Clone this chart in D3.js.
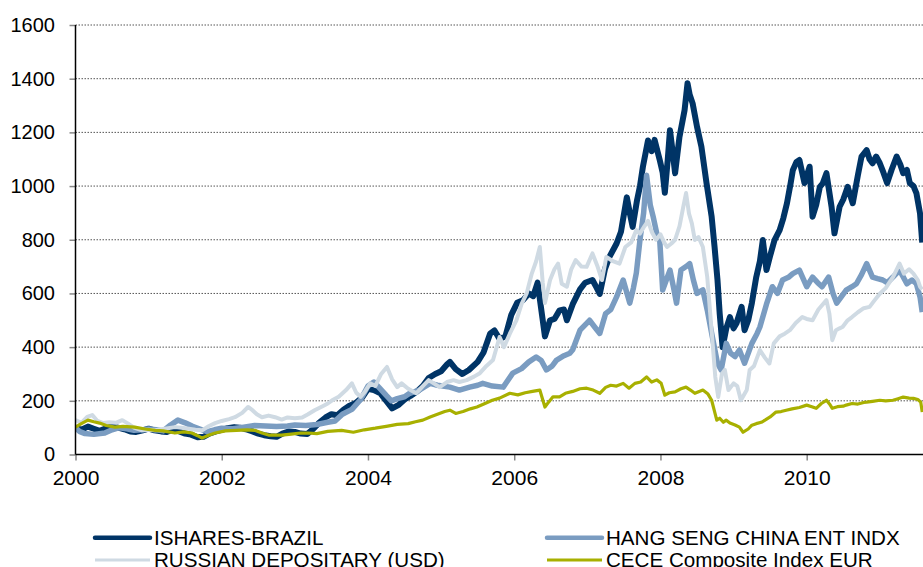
<!DOCTYPE html>
<html>
<head>
<meta charset="utf-8" />
<title></title>
<style>
html, body {
    margin: 0;
    padding: 0;
    background: #fff;
}
svg text {
    font-family: Arial, "Liberation Sans", sans-serif;
}
.grid line {
    stroke: #555;
    stroke-dasharray: 1.5,1.5;
}
</style>
</head>
<body>
<div id="chart"></div>
<script src="https://cdnjs.cloudflare.com/ajax/libs/d3/7.8.5/d3.min.js"></script>
<script>
var yearTicks = [2000, 2002, 2004, 2006, 2008, 2010]
var valueTicks = [0, 200, 400, 600, 800, 1000, 1200, 1400, 1600]
var seriesNames = ["ISHARES-BRAZIL", "HANG SENG CHINA ENT INDX", "RUSSIAN DEPOSITARY (USD)", "CECE Composite Index EUR"]

// [decimal year, index value]
var brazil = [[2000.00,100],[2000.08,92],[2000.17,104],[2000.25,96],[2000.33,88],[2000.42,98],[2000.5,105],[2000.58,100],[2000.67,94],[2000.75,86],[2000.83,84],[2000.92,90],
    [2001.0,96],[2001.08,90],[2001.17,86],[2001.25,84],[2001.33,92],[2001.42,86],[2001.5,78],[2001.58,74],[2001.67,64],[2001.75,66],[2001.83,78],[2001.92,86],
    [2002.0,92],[2002.08,98],[2002.17,102],[2002.25,100],[2002.33,94],[2002.42,86],[2002.5,78],[2002.58,72],[2002.67,68],[2002.75,66],[2002.83,78],[2002.92,86],
    [2003.0,84],[2003.08,78],[2003.17,76],[2003.25,95],[2003.33,118],[2003.42,138],[2003.5,150],[2003.58,146],[2003.67,168],[2003.75,182],[2003.83,192],[2003.92,212],
    [2004.0,245],[2004.08,240],[2004.17,228],[2004.25,200],[2004.33,172],[2004.42,185],[2004.5,205],[2004.58,218],[2004.67,235],[2004.75,255],[2004.83,285],[2004.92,300],
    [2005.0,310],[2005.08,335],[2005.12,345],[2005.2,318],[2005.29,300],[2005.38,315],[2005.5,345],[2005.58,380],[2005.67,450],[2005.73,462],[2005.8,430],[2005.88,440],[2005.96,520],
    [2006.04,565],[2006.12,575],[2006.2,600],[2006.26,590],[2006.32,640],[2006.38,520],[2006.42,440],[2006.49,500],[2006.55,505],[2006.62,537],[2006.68,540],[2006.72,500],[2006.8,560],[2006.9,615],[2006.97,640],
    [2007.07,650],[2007.13,620],[2007.17,598],[2007.24,690],[2007.3,735],[2007.4,786],[2007.46,830],[2007.54,958],[2007.58,900],[2007.62,848],[2007.68,948],[2007.72,1000],[2007.76,1072],[2007.83,1170],[2007.88,1130],[2007.92,1172],[2007.99,1097],
    [2008.03,1050],[2008.06,975],[2008.1,1100],[2008.13,1208],[2008.17,1120],[2008.2,1048],[2008.26,1183],[2008.33,1283],[2008.37,1383],[2008.4,1340],[2008.44,1308],[2008.5,1221],[2008.56,1147],[2008.63,1011],[2008.7,886],[2008.74,773],[2008.78,650],[2008.81,525],[2008.85,400],[2008.9,470],[2008.95,512],
    [2009.0,470],[2009.04,489],[2009.11,550],[2009.15,463],[2009.2,500],[2009.25,564],[2009.31,661],[2009.36,720],[2009.4,799],[2009.45,687],[2009.5,740],[2009.56,799],[2009.63,836],[2009.68,880],[2009.73,936],[2009.78,1010],[2009.81,1059],[2009.86,1090],[2009.9,1097],[2009.97,1011],
    [2010.04,1072],[2010.08,886],[2010.13,930],[2010.18,997],[2010.22,1010],[2010.27,1048],[2010.34,923],[2010.38,824],[2010.45,923],[2010.5,950],[2010.56,997],[2010.63,936],[2010.7,1040],[2010.75,1110],[2010.82,1134],[2010.86,1100],[2010.9,1085],[2010.95,1110],
    [2011.0,1085],[2011.05,1050],[2011.1,1011],[2011.16,1060],[2011.23,1110],[2011.28,1080],[2011.32,1048],[2011.37,1060],[2011.41,1011],[2011.46,1000],[2011.5,974],[2011.55,898],[2011.58,790]]

var hangSeng = [[2000.0,100],[2000.06,85],[2000.13,78],[2000.25,75],[2000.4,80],[2000.5,92],[2000.6,100],[2000.7,96],[2000.8,90],[2000.92,92],
    [2001.0,95],[2001.1,92],[2001.2,88],[2001.3,110],[2001.4,128],[2001.5,118],[2001.6,105],[2001.7,95],[2001.8,85],[2001.9,92],
    [2002.0,98],[2002.15,96],[2002.3,102],[2002.45,108],[2002.6,106],[2002.75,104],[2002.9,106],
    [2003.0,110],[2003.15,108],[2003.3,112],[2003.45,120],[2003.55,125],[2003.65,150],[2003.78,168],[2003.9,205],
    [2004.0,255],[2004.08,270],[2004.15,250],[2004.25,220],[2004.32,200],[2004.4,208],[2004.5,215],[2004.57,228],[2004.7,240],[2004.85,265],[2004.95,258],
    [2005.12,251],[2005.25,240],[2005.39,251],[2005.5,258],[2005.57,265],[2005.7,255],[2005.85,251],[2005.98,303],
    [2006.1,320],[2006.2,345],[2006.3,363],[2006.37,350],[2006.44,315],[2006.52,330],[2006.58,352],[2006.68,368],[2006.76,377],[2006.8,390],[2006.9,463],
    [2007.03,500],[2007.1,475],[2007.17,451],[2007.25,525],[2007.32,540],[2007.4,587],[2007.49,650],[2007.58,564],[2007.63,620],[2007.67,676],[2007.72,800],[2007.77,900],[2007.81,1040],[2007.86,930],[2007.9,886],[2007.95,823],[2007.99,799],
    [2008.03,613],[2008.08,650],[2008.13,687],[2008.18,620],[2008.22,564],[2008.28,687],[2008.35,700],[2008.4,711],[2008.45,650],[2008.5,600],[2008.58,613],[2008.64,538],[2008.71,438],[2008.78,340],[2008.83,315],[2008.9,414],[2008.96,377],
    [2009.02,365],[2009.08,389],[2009.15,340],[2009.25,414],[2009.32,450],[2009.36,475],[2009.45,560],[2009.53,625],[2009.6,600],[2009.67,650],[2009.75,660],[2009.81,674],[2009.9,687],
    [2010.0,625],[2010.08,661],[2010.15,640],[2010.21,625],[2010.3,661],[2010.36,600],[2010.41,564],[2010.48,590],[2010.54,612],[2010.62,625],[2010.68,636],[2010.75,670],[2010.82,711],[2010.9,661],[2010.97,655],
    [2011.04,650],[2011.1,640],[2011.18,661],[2011.27,687],[2011.37,636],[2011.44,650],[2011.5,636],[2011.55,587],[2011.58,530]]

var russian = [[2000.0,128],[2000.08,118],[2000.16,140],[2000.23,147],[2000.3,125],[2000.38,117],[2000.46,120],[2000.55,118],[2000.64,128],[2000.72,115],[2000.8,100],[2000.91,90],
    [2001.0,92],[2001.09,90],[2001.2,95],[2001.36,102],[2001.45,100],[2001.55,96],[2001.64,92],[2001.73,90],[2001.82,105],[2001.91,117],
    [2002.0,125],[2002.1,132],[2002.18,139],[2002.28,155],[2002.36,177],[2002.42,165],[2002.48,150],[2002.55,139],[2002.64,145],[2002.73,139],[2002.82,130],[2002.9,138],
    [2003.0,135],[2003.1,138],[2003.18,150],[2003.27,165],[2003.38,180],[2003.45,190],[2003.51,202],[2003.6,215],[2003.7,240],[2003.78,265],[2003.84,230],[2003.9,215],[2003.96,235],
    [2004.03,265],[2004.1,255],[2004.18,300],[2004.26,326],[2004.33,280],[2004.4,251],[2004.46,265],[2004.55,245],[2004.66,228],[2004.75,255],[2004.83,277],[2004.9,265],[2004.98,251],
    [2005.08,270],[2005.17,277],[2005.25,270],[2005.35,277],[2005.45,290],[2005.53,303],[2005.62,330],[2005.71,352],[2005.8,438],[2005.86,400],[2005.94,450],
    [2006.03,500],[2006.1,560],[2006.17,600],[2006.24,674],[2006.3,720],[2006.35,773],[2006.39,640],[2006.42,564],[2006.49,650],[2006.55,690],[2006.6,711],[2006.65,636],[2006.72,625],[2006.78,690],[2006.84,724],[2006.92,700],[2006.99,699],
    [2007.07,749],[2007.14,700],[2007.2,650],[2007.26,736],[2007.35,720],[2007.44,711],[2007.52,773],[2007.6,790],[2007.67,836],[2007.72,823],[2007.78,850],[2007.83,870],[2007.88,830],[2007.94,800],
    [2008.0,820],[2008.05,790],[2008.09,773],[2008.15,786],[2008.2,800],[2008.26,850],[2008.31,920],[2008.35,974],[2008.39,898],[2008.43,860],[2008.47,799],[2008.52,810],[2008.58,773],[2008.64,661],[2008.71,426],[2008.75,289],[2008.79,214],[2008.84,300],[2008.88,315],[2008.93,240],
    [2009.0,265],[2009.05,255],[2009.1,202],[2009.18,240],[2009.22,315],[2009.28,330],[2009.36,389],[2009.43,360],[2009.49,339],[2009.55,414],[2009.63,440],[2009.7,450],[2009.77,463],[2009.85,490],[2009.94,512],
    [2010.0,505],[2010.08,500],[2010.16,540],[2010.27,575],[2010.31,525],[2010.35,426],[2010.4,463],[2010.45,470],[2010.49,475],[2010.56,500],[2010.62,512],[2010.7,530],[2010.78,545],[2010.86,550],[2010.93,575],
    [2011.0,599],[2011.08,620],[2011.18,661],[2011.27,711],[2011.33,674],[2011.4,690],[2011.46,674],[2011.52,650],[2011.55,625],[2011.58,615]]

var cece = [[2000.0,102],[2000.08,115],[2000.17,128],[2000.25,122],[2000.33,117],[2000.42,108],[2000.54,102],[2000.65,105],[2000.81,102],[2000.95,95],
    [2001.09,90],[2001.2,88],[2001.36,80],[2001.48,84],[2001.59,80],[2001.67,70],[2001.73,61],[2001.82,72],[2001.91,80],
    [2002.05,88],[2002.2,90],[2002.35,92],[2002.45,90],[2002.55,80],[2002.65,72],[2002.82,72],[2002.95,76],
    [2003.08,80],[2003.18,80],[2003.3,78],[2003.45,86],[2003.64,90],[2003.8,83],[2003.95,92],
    [2004.1,98],[2004.25,105],[2004.4,112],[2004.55,115],[2004.65,122],[2004.75,128],[2004.85,140],[2004.95,150],
    [2005.05,160],[2005.12,165],[2005.2,153],[2005.3,160],[2005.4,170],[2005.49,177],[2005.6,190],[2005.7,202],[2005.8,210],[2005.94,228],
    [2006.05,222],[2006.15,230],[2006.25,235],[2006.35,240],[2006.42,177],[2006.47,195],[2006.53,215],[2006.62,215],[2006.7,228],[2006.8,235],[2006.9,245],[2006.99,247],
    [2007.08,240],[2007.17,228],[2007.25,250],[2007.32,258],[2007.4,255],[2007.49,265],[2007.57,247],[2007.65,265],[2007.73,270],[2007.81,289],[2007.88,270],[2007.95,278],
    [2008.01,265],[2008.06,221],[2008.12,230],[2008.2,233],[2008.28,245],[2008.35,251],[2008.41,240],[2008.47,228],[2008.53,235],[2008.58,240],[2008.65,225],[2008.7,202],[2008.74,160],[2008.77,128],[2008.81,135],[2008.86,120],[2008.9,128],[2008.95,117],
    [2009.02,110],[2009.08,102],[2009.13,83],[2009.2,95],[2009.25,109],[2009.31,115],[2009.38,120],[2009.43,128],[2009.5,140],[2009.58,158],[2009.65,160],[2009.72,165],[2009.8,170],[2009.9,175],
    [2010.0,184],[2010.07,178],[2010.13,172],[2010.2,190],[2010.27,202],[2010.32,185],[2010.35,172],[2010.42,178],[2010.5,180],[2010.54,184],[2010.62,190],[2010.7,188],[2010.78,194],[2010.82,195],[2010.9,198],
    [2011.0,202],[2011.08,200],[2011.18,202],[2011.25,208],[2011.32,214],[2011.4,210],[2011.46,209],[2011.52,205],[2011.56,195],[2011.58,158]]

var width = 923, height = 567
var plotLeft = 75.5, plotTop = 25, plotBottom = 454.5, plotRight = 923

var svg = d3.select("#chart").append("svg")
    .attr("width", width)
    .attr("height", height)

var x = d3.scaleLinear().domain([2000, 2012]).range([plotLeft, plotLeft + 12 * 73.12])
var y = d3.scaleLinear().domain([0, 1600]).range([plotBottom, plotTop])

// dotted grid
svg.append("g").classed("grid", true)
    .selectAll("line")
    .data(valueTicks.slice(1))
    .enter()
    .append("line")
    .attr("x1", plotLeft).attr("x2", plotRight)
    .attr("y1", function(d){ return y(d) }).attr("y2", function(d){ return y(d) })

svg.append("clipPath").attr("id", "plot")
    .append("rect")
    .attr("x", plotLeft).attr("y", 0)
    .attr("width", plotRight - plotLeft).attr("height", plotBottom)

var series = [
    {data: brazil, color: "#003466", w: 6},
    {data: hangSeng, color: "#7a9cc1", w: 5.5},
    {data: russian, color: "#cfdae3", w: 4},
    {data: cece, color: "#a8b000", w: 3.2}
]

var line = d3.line()
    .x(function(d){ return x(d[0]) })
    .y(function(d){ return y(d[1]) })

svg.append("g").attr("clip-path", "url(#plot)")
    .selectAll("path")
    .data(series)
    .enter()
    .append("path")
    .attr("d", function(s){ return line(s.data) })
    .attr("fill", "none")
    .attr("stroke", function(s){ return s.color })
    .attr("stroke-width", function(s){ return s.w })
    .attr("stroke-linejoin", "round")

var yAxis = svg.append("g")
    .attr("transform", "translate(" + plotLeft + ",0)")
    .call(d3.axisLeft(y).tickValues(valueTicks).tickSize(6).tickPadding(14.5).tickFormat(d3.format("d")))
var xAxis = svg.append("g")
    .attr("transform", "translate(0," + plotBottom + ")")
    .call(d3.axisBottom(x).tickValues(yearTicks).tickSize(6).tickPadding(9.5).tickFormat(d3.format("d")))

yAxis.select(".domain").remove()
xAxis.select(".domain").remove()
svg.selectAll(".tick line").attr("stroke", "#888").attr("stroke-width", 1.5)
yAxis.selectAll(".tick text").attr("font-size", 20).attr("fill", "#000")
xAxis.selectAll(".tick text").attr("font-size", 21).attr("fill", "#000")

svg.append("line")
    .attr("x1", plotLeft).attr("x2", plotLeft)
    .attr("y1", plotTop).attr("y2", plotBottom)
    .attr("stroke", "#000").attr("stroke-width", 1.5)
svg.append("line")
    .attr("x1", plotLeft).attr("x2", plotRight)
    .attr("y1", plotBottom).attr("y2", plotBottom)
    .attr("stroke", "#000").attr("stroke-width", 1.5)

// legend, two columns
var legendPos = [[95, 537.7], [547, 537.7], [95, 560], [547, 560]]
var legendOrder = [0, 1, 2, 3]
var legend = svg.append("g").selectAll("g")
    .data(legendOrder)
    .enter()
    .append("g")
    .attr("transform", function(d, i){ return "translate(" + legendPos[i][0] + "," + legendPos[i][1] + ")" })

legend.append("line")
    .attr("x1", 0).attr("x2", 55)
    .attr("stroke", function(d){ return series[d].color })
    .attr("stroke-width", function(d){ return d < 2 ? 4.5 : 3 })
    .attr("stroke-linecap", function(d){ return d < 2 ? "round" : "butt" })

legend.append("text")
    .attr("x", 59)
    .attr("dy", "0.35em")
    .attr("font-size", 20.6)
    .attr("fill", "#000")
    .text(function(d){ return seriesNames[d] })
</script>
</body>
</html>
